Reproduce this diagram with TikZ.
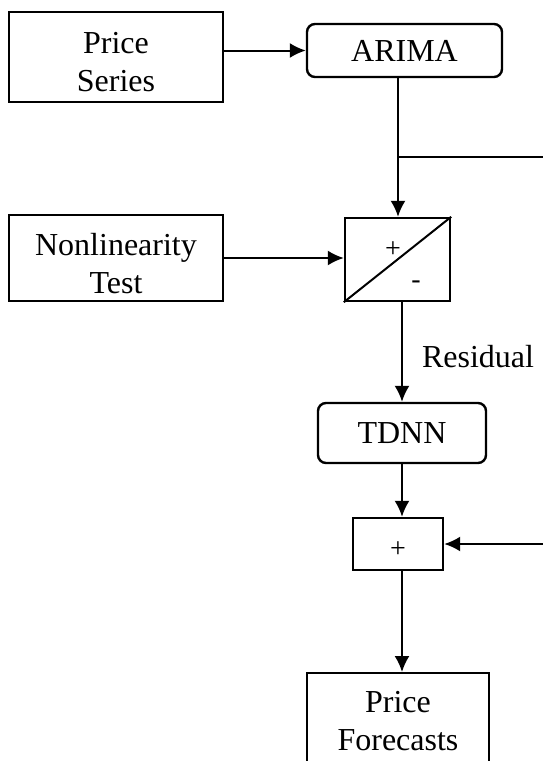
\documentclass[tikz,border=0pt]{standalone}
\usepackage{fontspec}
\setmainfont{Liberation Serif}
\usetikzlibrary{arrows.meta}

\begin{document}
\begin{tikzpicture}[x=1pt,y=-1pt,>={Latex[length=16pt,width=15pt]},line width=2pt,
  every node/.style={font=\fontsize{32}{38}\selectfont,align=center,inner sep=0pt},
  blk/.style={draw,rectangle,line width=2.4pt},
  rblk/.style={draw,rectangle,rounded corners=8pt,line width=2.4pt},
  sign/.style={font=\fontsize{28}{30}\selectfont}]
\clip (0,0) rectangle (543,761);
\node[blk,minimum width=214,minimum height=90,text height=68pt,text depth=0pt] (price) at (116,57) {Price\\Series};
\node[rblk,minimum width=195,minimum height=53] (arima) at (404.5,50.5) {ARIMA};
\node[blk,minimum width=214,minimum height=86,text height=70pt,text depth=0pt] (nonlin) at (116,258) {Nonlinearity\\Test};
\node[blk,minimum width=105,minimum height=83] (diff) at (397.5,259.5) {};
\draw (diff.south west) -- (diff.north east);
\node[sign] (dplus) at (393,250) {+}; \node[sign] (dminus) at (416,285) {-};
\node (resid) at (478,357) {Residual};
\node[rblk,minimum width=168,minimum height=60] (tdnn) at (402,433) {TDNN};
\node[blk,minimum width=90,minimum height=52,sign,text height=26pt,text depth=0pt] (plus) at (398,544) {+};
\node[blk,minimum width=182,minimum height=96,anchor=north] (fcast) at (398,672) {Price\\Forecasts};
\coordinate (jn) at (398,157);
\draw[->] (price.east |- arima.west) -- (arima.west);
\draw (arima.south -| jn) -- (jn); \draw[->] (jn) -- (jn |- diff.north);
\draw[->] (jn) -- ++(200,0) |- (plus.east);
\draw[->] (nonlin.east) -- (nonlin.east -| diff.west);
\draw[->] (diff.south -| tdnn.north) -- (tdnn.north);
\draw[->] (tdnn.south) -- (tdnn.south |- plus.north);
\draw[->] (tdnn.south |- plus.south) -- (tdnn.south |- fcast.north);
\end{tikzpicture}
\end{document}
